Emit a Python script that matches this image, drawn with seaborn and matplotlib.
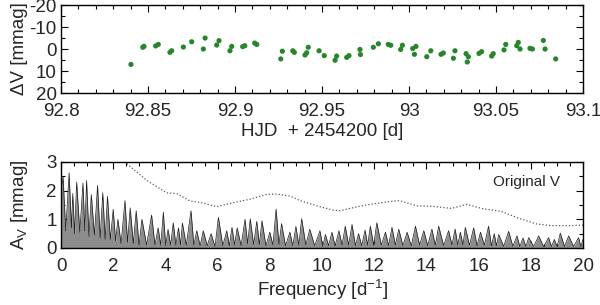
import matplotlib
matplotlib.use("Agg")
import matplotlib.pyplot as plt
import seaborn as sns
import pandas as pd
from matplotlib.ticker import MultipleLocator

# light curve, HJD - 2454200 and delta V in mmag
hjd = [92.8402, 92.8470, 92.8477, 92.8544, 92.8559, 92.8626, 92.8636, 92.8703, 92.8751, 92.8818,
       92.8828, 92.8895, 92.8908, 92.8971, 92.8981, 92.9044, 92.9056, 92.9113, 92.9125,
       92.9263, 92.9272, 92.9332, 92.9341, 92.9402, 92.9412, 92.9421, 92.9483, 92.9513,
       92.9575, 92.9584, 92.9642, 92.9655, 92.9718, 92.9721, 92.9795, 92.9824, 92.9881,
       92.9895, 92.9952, 92.9962, 93.0021, 93.0031, 93.0040, 93.0102, 93.0125, 93.0184,
       93.0197, 93.0255, 93.0264, 93.0328, 93.0335, 93.0341, 93.0402, 93.0417, 93.0475,
       93.0484, 93.0546, 93.0556, 93.0619, 93.0628, 93.0638, 93.0695, 93.0709, 93.0772,
       93.0782, 93.0843]
dv = [7.0, -0.8, -1.2, -1.4, -2.1, 1.5, 0.8, -0.9, -3.3, 0.0,
      -5.0, -1.8, -3.8, 0.8, -1.2, -1.1, -1.5, -2.7, -2.1,
      4.5, 1.0, 0.8, 1.5, 2.7, 1.7, -0.8, 0.8, 3.0,
      5.1, 3.2, 3.8, 3.0, 0.2, 2.5, -0.8, -2.4, -2.1,
      -1.7, 0.2, -1.7, -0.2, 2.4, -1.2, 3.5, 0.8, 2.4,
      1.8, 4.2, 0.8, 2.1, 5.9, 3.5, 2.0, 1.2, 3.2,
      2.1, 0.4, -2.1, -1.5, -3.0, 0.0, -0.3, 0.0, -3.9,
      0.0, 4.5]

# amplitude spectrum (peaks and troughs)
spec_freq = [0.0, 0.08, 0.18, 0.31, 0.40, 0.45, 0.52, 0.60, 0.72, 0.84,
             0.91, 0.98, 1.07, 1.16, 1.28, 1.40, 1.50, 1.60, 1.69, 1.78,
             1.89, 2.00, 2.09, 2.18, 2.30, 2.45, 2.55, 2.65, 2.77, 2.88,
             2.99, 3.10, 3.28, 3.47, 3.60, 3.72, 3.82, 3.92, 4.01, 4.10,
             4.20, 4.30, 4.40, 4.50, 4.58, 4.65, 4.80, 4.98, 5.09, 5.20,
             5.33, 5.45, 5.60, 5.75, 5.90, 6.03, 6.20, 6.35, 6.45, 6.55,
             6.65, 6.75, 6.90, 7.05, 7.15, 7.25, 7.38, 7.50, 7.60, 7.70,
             7.85, 8.00, 8.12, 8.24, 8.35, 8.45, 8.60, 8.77, 8.88, 9.00,
             9.11, 9.22, 9.38, 9.53, 9.72, 9.92, 10.03, 10.13, 10.25, 10.38,
             10.50, 10.65, 10.77, 10.89, 11.02, 11.15, 11.28, 11.40, 11.52, 11.65,
             11.75, 11.85, 11.98, 12.10, 12.27, 12.43, 12.55, 12.68, 12.81, 12.94,
             13.10, 13.26, 13.42, 13.58, 13.74, 13.90, 14.05, 14.21, 14.34, 14.47,
             14.66, 14.85, 14.98, 15.10, 15.20, 15.30, 15.40, 15.49, 15.65, 15.81,
             15.94, 16.07, 16.22, 16.38, 16.49, 16.60, 16.68, 16.77, 16.96, 17.15,
             17.31, 17.47, 17.58, 17.70, 17.81, 17.92, 18.11, 18.30, 18.49, 18.68,
             18.79, 18.90, 19.01, 19.13, 19.29, 19.45, 19.64, 19.83, 19.92, 20.00]
spec_amp = [1.95, 2.48, 0.60, 2.62, 0.70, 1.90, 0.50, 2.30, 0.55, 2.26,
            0.60, 2.35, 0.40, 1.86, 0.45, 2.18, 0.35, 1.93, 0.30, 1.80,
            0.30, 1.35, 0.25, 1.00, 0.15, 1.65, 0.20, 1.40, 0.15, 1.30,
            0.10, 1.00, 0.10, 1.15, 0.10, 0.70, 0.10, 1.25, 0.08, 0.65,
            0.10, 0.88, 0.10, 0.70, 0.10, 0.87, 0.10, 1.30, 0.10, 0.60,
            0.08, 0.60, 0.08, 0.50, 0.05, 1.07, 0.08, 0.60, 0.08, 0.72,
            0.10, 0.70, 0.08, 1.00, 0.15, 1.02, 0.12, 0.93, 0.12, 0.95,
            0.08, 0.55, 0.10, 1.36, 0.12, 0.85, 0.08, 0.55, 0.08, 0.75,
            0.10, 1.02, 0.10, 0.65, 0.08, 0.60, 0.05, 0.47, 0.08, 0.55,
            0.08, 0.60, 0.10, 0.76, 0.10, 0.82, 0.08, 0.50, 0.08, 0.62,
            0.10, 0.76, 0.10, 0.88, 0.10, 0.55, 0.08, 0.72, 0.10, 0.65,
            0.08, 0.55, 0.08, 0.76, 0.10, 0.60, 0.08, 0.66, 0.10, 0.76,
            0.08, 0.60, 0.10, 0.66, 0.10, 0.55, 0.10, 0.72, 0.10, 0.70,
            0.08, 0.55, 0.10, 0.76, 0.08, 0.50, 0.08, 0.47, 0.06, 0.58,
            0.06, 0.42, 0.05, 0.35, 0.05, 0.36, 0.05, 0.42, 0.05, 0.36,
            0.05, 0.30, 0.05, 0.52, 0.05, 0.42, 0.05, 0.36, 0.05, 0.30]

# significance level (dotted)
sig_freq = [2.52, 3.28, 4.05, 4.43, 4.94, 5.33, 5.97, 6.6, 7.24, 7.88, 8.26, 8.77,
            9.16, 9.92, 10.43, 10.7, 11.07, 11.71, 12.48, 12.97, 13.63, 14.27, 14.95,
            15.55, 16.15, 16.85, 17.5, 18.2, 18.77, 19.6, 20.0]
sig_amp = [2.94, 2.36, 1.92, 1.9, 1.64, 1.59, 1.44, 1.58, 1.70, 1.87, 1.88, 1.81,
           1.65, 1.44, 1.32, 1.30, 1.38, 1.50, 1.61, 1.65, 1.47, 1.45, 1.38,
           1.52, 1.37, 1.28, 1.05, 0.84, 0.78, 0.78, 0.80]

sns.set_style("ticks")
plt.rcParams['font.family'] = ['Liberation Sans', 'DejaVu Sans']
plt.rcParams['mathtext.fontset'] = 'custom'
plt.rcParams['mathtext.rm'] = 'Liberation Sans'
plt.rcParams['mathtext.it'] = 'Liberation Sans'
plt.rcParams['axes.unicode_minus'] = False

lc = pd.DataFrame({'hjd': hjd, 'dv': dv})
spec = pd.DataFrame({'f': spec_freq, 'a': spec_amp})
sig = pd.DataFrame({'f': sig_freq, 'a': sig_amp})

fig = plt.figure(figsize=(6, 3.05), dpi=100)
ax1 = fig.add_axes([0.1017, 0.695, 0.87, 0.2885])
ax2 = fig.add_axes([0.1017, 0.187, 0.87, 0.282])

sns.scatterplot(data=lc, x='hjd', y='dv', ax=ax1, color='#25872a', s=14,
                edgecolor='none', legend=False)
ax1.set_xlim(92.8, 93.1)
ax1.set_ylim(20, -20)
ax1.xaxis.set_minor_locator(MultipleLocator(0.01))
ax1.yaxis.set_major_locator(MultipleLocator(10))
ax1.yaxis.set_minor_locator(MultipleLocator(5))
ax1.set_xticks([92.8, 92.85, 92.9, 92.95, 93.0, 93.05, 93.1])
ax1.set_xticklabels(['92.8', '92.85', '92.9', '92.95', '93', '93.05', '93.1'])
ax1.set_xlabel('HJD  + 2454200 [d]', fontsize=13.5, labelpad=2)
ax1.set_ylabel('ΔV [mmag]', fontsize=13.5, labelpad=1)

ax2.fill_between(spec['f'], 0, spec['a'], color='0.55', lw=0)
sns.lineplot(data=spec, x='f', y='a', ax=ax2, color='0.1', lw=0.5,
             estimator=None, sort=False)
sns.lineplot(data=sig, x='f', y='a', ax=ax2, color='0.35', lw=0.9,
             linestyle=':', estimator=None, sort=False)
ax2.set_xlim(0, 20)
ax2.set_ylim(0, 3)
ax2.xaxis.set_major_locator(MultipleLocator(2))
ax2.xaxis.set_minor_locator(MultipleLocator(0.5))
ax2.yaxis.set_major_locator(MultipleLocator(1))
ax2.yaxis.set_minor_locator(MultipleLocator(0.5))
ax2.set_xlabel('Frequency [d$^{-1}$]', fontsize=13.5, labelpad=2)
ax2.set_ylabel('A$_V$ [mmag]', fontsize=13.5, labelpad=12)
ax2.text(0.955, 0.77, 'Original V', transform=ax2.transAxes, ha='right',
         va='center', fontsize=11)

for ax in (ax1, ax2):
    ax.tick_params(which='both', direction='in', top=True, right=True,
                   labelsize=13.5, width=0.8, color='black')
    ax.tick_params(which='major', length=5)
    ax.tick_params(which='minor', length=3)
    ax.tick_params(axis='x', which='major', pad=7)
    ax.tick_params(axis='y', which='major', pad=3)
    for sp in ax.spines.values():
        sp.set_color('black')
        sp.set_linewidth(1.0)

fig.savefig('out.png', dpi=100)
